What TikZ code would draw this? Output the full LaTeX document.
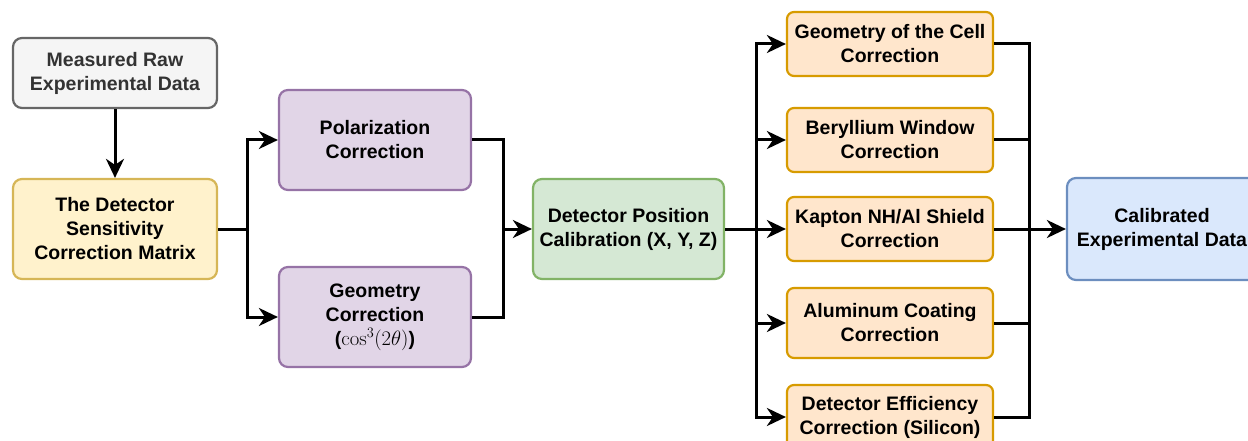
\documentclass[tikz,border=0pt]{standalone}
\usepackage[no-math]{fontspec}
\setmainfont{Liberation Sans}
\usetikzlibrary{arrows.meta}
\definecolor{grayfill}{HTML}{F5F5F5}\definecolor{graydraw}{HTML}{666666}\definecolor{graytext}{HTML}{333333}
\definecolor{yelfill}{HTML}{FFF2CC}\definecolor{yeldraw}{HTML}{D6B656}
\definecolor{purfill}{HTML}{E1D5E7}\definecolor{purdraw}{HTML}{9673A6}
\definecolor{grnfill}{HTML}{D5E8D4}\definecolor{grndraw}{HTML}{82B366}
\definecolor{orgfill}{HTML}{FFE6CC}\definecolor{orgdraw}{HTML}{D79B00}
\definecolor{blufill}{HTML}{DAE8FC}\definecolor{bludraw}{HTML}{6C8EBF}
\tikzset{
  box/.style={draw, line width=2.2pt, rounded corners=9pt, align=center, inner sep=1pt,
    font=\fontsize{19.5}{24}\selectfont\bfseries},
  graybox/.style={box, fill=grayfill, draw=graydraw, text=graytext, minimum width=204pt, minimum height=70pt},
  yelbox/.style={box, fill=yelfill, draw=yeldraw, minimum width=204pt, minimum height=100pt},
  purbox/.style={box, fill=purfill, draw=purdraw, minimum width=192pt, minimum height=100pt},
  grnbox/.style={box, fill=grnfill, draw=grndraw, minimum width=191pt, minimum height=100pt},
  orgbox/.style={box, fill=orgfill, draw=orgdraw, rounded corners=7pt, minimum width=206pt, minimum height=64pt},
  blubox/.style={box, fill=blufill, draw=bludraw, minimum width=190pt, minimum height=102pt},
  conn/.style={line width=3pt, line join=miter},
  arr/.style={conn, -{Stealth[length=19pt, width=18pt, inset=6pt]}}
}
\begin{document}
\begin{tikzpicture}[x=1pt, y=-1pt]
\useasboundingbox (0,0) rectangle (1248,441);
\clip (0,0) rectangle (1248,441);
\node[graybox] (raw) at (115,73) {Measured Raw\\Experimental Data};
\node[yelbox] (sens) at (115,229) {The Detector\\Sensitivity\\Correction Matrix};
\node[purbox] (pol) at (375,140) {Polarization\\Correction};
\node[purbox] (geo) at (375,317) {Geometry\\Correction\\(${\cos^3(2\theta)}$)};
\node[grnbox] (pos) at (628.5,229) {Detector Position\\Calibration (X, Y, Z)};
\node[orgbox] (o1) at (890,44) {Geometry of the Cell\\Correction};
\node[orgbox] (o2) at (890,140) {Beryllium Window\\Correction};
\node[orgbox] (o3) at (890,229) {Kapton NH/Al Shield\\Correction};
\node[orgbox, minimum height=70pt] (o4) at (890,323) {Aluminum Coating\\Correction};
\node[orgbox] (o5) at (890,417) {Detector Efficiency\\Correction (Silicon)};
\node[blubox] (out) at (1162,229) {Calibrated\\Experimental Data};
\coordinate (lb) at (247,229);
\coordinate (rb) at (503,229);
\coordinate (lb2) at (756,229);
\coordinate (rb2) at (1029,229);
\draw[arr] (raw.south) -- (sens.north);
\draw[conn] (sens.east) -- (lb);
\draw[arr] (lb) |- (pol.west);
\draw[arr] (lb) |- (geo.west);
\draw[conn] (pol.east) -| (rb);
\draw[conn] (geo.east) -| (rb);
\draw[arr] (rb) -- (pos.west);
\draw[conn] (pos.east) -- (lb2);
\foreach \n in {o1,o2,o3,o4,o5}{
  \draw[arr] (lb2) |- (\n.west);
  \draw[conn] (\n.east) -| (rb2);
}
\draw[arr] (rb2) -- (out.west);
\end{tikzpicture}
\end{document}
